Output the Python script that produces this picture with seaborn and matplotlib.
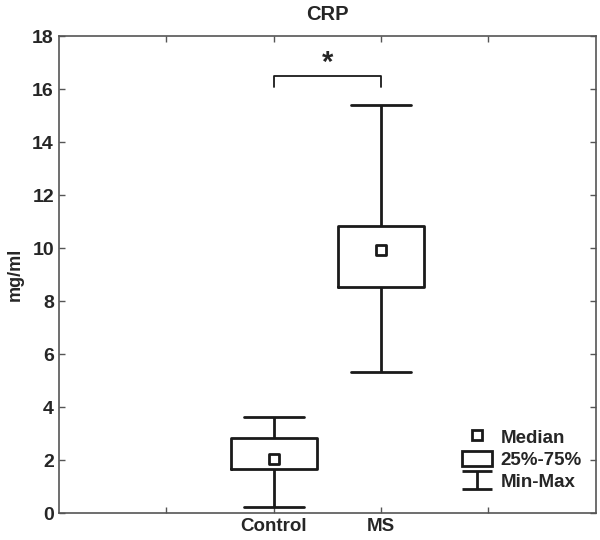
import numpy as np
import pandas as pd
import matplotlib
matplotlib.use("Agg")
import matplotlib.pyplot as plt
from matplotlib.lines import Line2D
from matplotlib.patches import Rectangle
from matplotlib.path import Path
import seaborn as sns

# summary values (mg/ml)
groups = ["Control", "MS"]
mins = [0.24, 5.33]
q1s = [1.66, 8.52]
medians = [2.03, 9.92]
q3s = [2.82, 10.83]
maxs = [3.61, 15.42]

# five points per group reproduce the quartiles exactly with linear quantiles
rows = []
for g, a, b, c, d, e in zip(groups, mins, q1s, medians, q3s, maxs):
    for v in (a, b, c, d, e):
        rows.append({"group": g, "value": v})
df = pd.DataFrame(rows)
med_df = pd.DataFrame({"group": groups, "value": medians})

sns.set_style("white")
plt.rcParams["font.family"] = ["Liberation Sans", "DejaVu Sans"]
plt.rcParams["font.weight"] = "bold"

ink = "#1a1a1a"
fig = plt.figure(figsize=(6, 5.4), dpi=100)
ax = fig.add_axes([0.098, 0.05, 0.895, 0.883])

sns.boxplot(data=df, x="group", y="value", order=groups, whis=(0, 100),
            width=0.8, fill=False, color=ink, linewidth=2, showfliers=False,
            medianprops={"visible": False}, capwidths=0.56, ax=ax)
sns.scatterplot(data=med_df, x="group", y="value", marker="s", s=60,
                facecolor="white", edgecolor=ink, linewidth=2, zorder=5, ax=ax)

# significance bracket
ax.plot([0, 0, 1, 1], [16.1, 16.5, 16.5, 16.1], color=ink, lw=1.3)
ax.text(0.5, 16.45, "*", ha="center", va="bottom", fontsize=21, fontweight="bold")

ax.set_xlim(-2, 3)
ax.set_ylim(0, 18)
ax.set_xticks([-1, 0, 1, 2])
ax.set_xticklabels(["", "Control", "MS", ""], fontsize=13.5, fontweight="bold")
ax.set_yticks(np.arange(0, 19, 2))
ax.tick_params(axis="y", labelsize=14)
ax.tick_params(direction="in", length=4, width=1, color="#555555",
               top=True, right=True, bottom=True, left=True)
for lab in ax.get_yticklabels():
    lab.set_fontweight("bold")
ax.set_xlabel("")
ax.set_ylabel("mg/ml", fontsize=13, fontweight="bold", labelpad=6)
ax.set_title("CRP", fontsize=14.5, fontweight="bold", pad=12)
for sp in ax.spines.values():
    sp.set_color("#555555")
    sp.set_linewidth(1.2)

# legend
minmax = Path([(-1, 0.6), (1, 0.6), (0, 0.6), (0, -0.6), (-1, -0.6), (1, -0.6)],
              [Path.MOVETO, Path.LINETO, Path.MOVETO, Path.LINETO, Path.MOVETO, Path.LINETO])
handles = [
    Line2D([], [], marker="s", ls="none", markersize=7, markerfacecolor="white",
           markeredgecolor=ink, markeredgewidth=2),
    Rectangle((0, 0), 1, 1, facecolor="white", edgecolor=ink, linewidth=2),
    Line2D([], [], marker=minmax, ls="none", markersize=21, markeredgecolor=ink,
           markeredgewidth=2),
]
ax.legend(handles, ["Median", "25%-75%", "Min-Max"], loc="lower right",
          bbox_to_anchor=(0.998, 0.018),
          frameon=False, prop={"size": 13.5, "weight": "bold"}, handlelength=1.6,
          handleheight=0.9, handletextpad=0.45, labelspacing=0.22, borderaxespad=0.3)

fig.savefig("out.png", dpi=100)
